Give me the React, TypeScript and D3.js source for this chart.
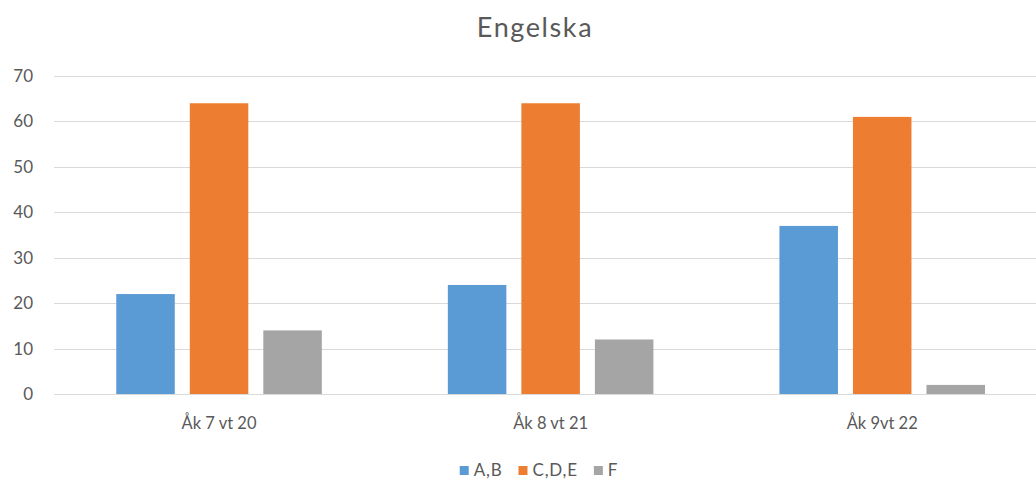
import React, { useEffect, useRef } from "react";
import * as d3 from "d3";

const categories = ["Åk 7 vt 20", "Åk 8 vt 21", "Åk 9vt 22"];
const seriesNames = ["A,B", "C,D,E", "F"];
const seriesAB = [22, 24, 37];
const seriesCDE = [64, 64, 61];
const seriesF = [14, 12, 2];
const yTicks = [0, 10, 20, 30, 40, 50, 60, 70];
const colors = ["#5b9bd5", "#ed7d31", "#a5a5a5"];
const title = "Engelska";

const W = 1036;
const H = 481;
const FONT = "Lato, 'Open Sans', sans-serif";

export default function App() {
  const ref = useRef<SVGSVGElement>(null);
  useEffect(() => {
    const svg = d3.select(ref.current);
    svg.selectAll("*").remove();
    const values = [seriesAB, seriesCDE, seriesF];

    const y = d3.scaleLinear().domain([0, 70]).range([394, 76]);
    const x0 = d3.scaleBand<string>().domain(categories).range([53.25, 1048]).paddingInner(0).paddingOuter(0);
    const x1 = d3
      .scaleBand<string>()
      .domain(seriesNames)
      .range([0, x0.bandwidth()])
      .paddingInner(0.204)
      .paddingOuter(0.857);

    // gridlines
    svg
      .append("g")
      .selectAll("line")
      .data(yTicks)
      .join("line")
      .attr("x1", 54)
      .attr("x2", W)
      .attr("y1", (d) => Math.round(y(d)) + 0.5)
      .attr("y2", (d) => Math.round(y(d)) + 0.5)
      .attr("stroke", "#d9d9d9")
      .attr("stroke-width", 1);

    // y tick labels
    svg
      .append("g")
      .selectAll("text")
      .data(yTicks)
      .join("text")
      .attr("x", 33)
      .attr("y", (d) => y(d))
      .attr("dy", "0.35em")
      .attr("text-anchor", "end")
      .attr("font-family", FONT)
      .attr("font-size", 17)
      .attr("fill", "#595959")
      .text((d) => String(d));

    // bars
    const groups = svg
      .append("g")
      .selectAll("g")
      .data(categories)
      .join("g")
      .attr("transform", (c) => `translate(${x0(c)},0)`);
    groups
      .selectAll("rect")
      .data((c, i) => seriesNames.map((s, j) => ({ s, v: values[j][i], j })))
      .join("rect")
      .attr("x", (d) => x1(d.s)!)
      .attr("width", x1.bandwidth())
      .attr("y", (d) => y(d.v))
      .attr("height", (d) => y(0) - y(d.v))
      .attr("fill", (d) => colors[d.j]);

    // category labels
    svg
      .append("g")
      .selectAll("text")
      .data(categories)
      .join("text")
      .attr("x", (c) => x0(c)! + x1("C,D,E")! + x1.bandwidth() / 2)
      .attr("y", 429)
      .attr("text-anchor", "middle")
      .attr("font-family", FONT)
      .attr("font-size", 16.5)
      .attr("fill", "#595959")
      .text((c) => c);

    // title
    svg
      .append("text")
      .attr("x", 535)
      .attr("y", 37)
      .attr("text-anchor", "middle")
      .attr("font-family", FONT)
      .attr("font-size", 27)
      .attr("letter-spacing", 1.6)
      .attr("fill", "#595959")
      .text(title);

    // legend
    const lg = svg.append("g");
    let cx = 0;
    seriesNames.forEach((s, i) => {
      const g = lg.append("g").attr("transform", `translate(${cx},0)`);
      g.append("rect").attr("x", 0).attr("y", -10).attr("width", 9).attr("height", 9).attr("fill", colors[i]);
      const t = g
        .append("text")
        .attr("x", 14)
        .attr("y", 0)
        .attr("font-family", FONT)
        .attr("font-size", 17)
        .attr("letter-spacing", 0.8)
        .attr("fill", "#595959")
        .text(s);
      const tw = (t.node() as SVGTextElement).getComputedTextLength();
      cx += 14 + tw + 16;
    });
    const total = cx - 16;
    lg.attr("transform", `translate(${539 - total / 2},476)`);
  }, []);

  return (
    <svg
      ref={ref}
      width={W}
      height={H}
      style={{ position: "absolute", left: 0, top: 0, background: "#fff" }}
    />
  );
}
